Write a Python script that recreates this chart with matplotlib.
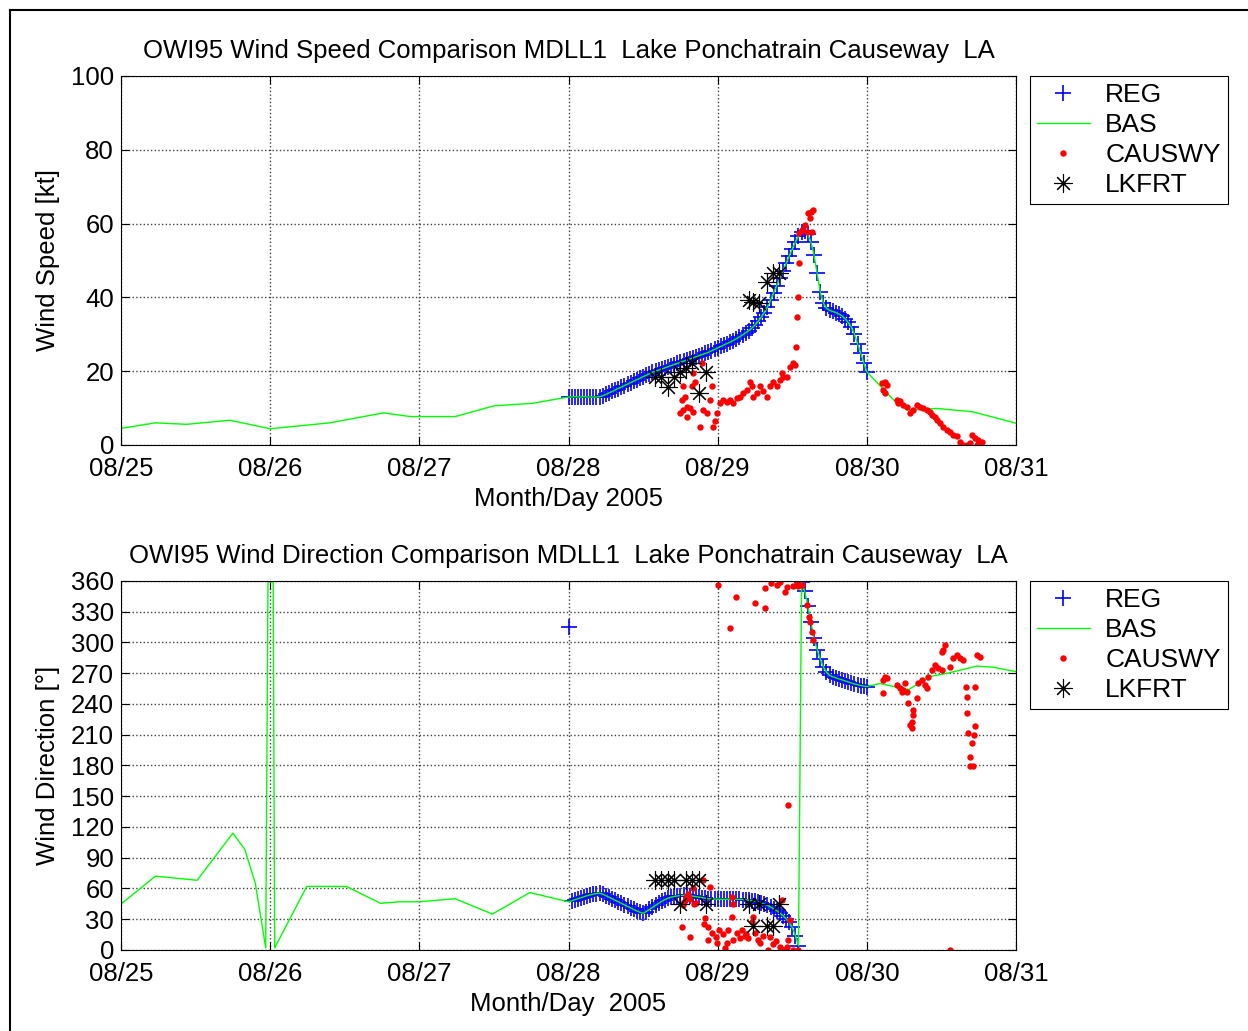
import numpy as np
import matplotlib
matplotlib.use('Agg')
import matplotlib.pyplot as plt
from matplotlib.lines import Line2D

plt.rcParams['font.family'] = ['Liberation Sans', 'DejaVu Sans']

# x axis: days since 08/25 2005 00:00
day_ticks = [0, 1, 2, 3, 4, 5, 6]
day_labels = ['08/25', '08/26', '08/27', '08/28', '08/29', '08/30', '08/31']

# REG model, every half hour from 08/28 00:00
reg_start = 3.0
reg_step = 0.5 / 24
reg_spd = [13.0, 13.0, 13.1, 13.0, 13.0, 13.1, 13.0, 13.0,
           13.0, 13.0, 13.1, 13.3, 13.7, 14.1, 14.5, 14.9, 15.3, 15.7,
           16.1, 16.5, 16.9, 17.3, 17.7, 18.1, 18.5, 18.9, 19.3, 19.7,
           20.0, 20.3, 20.6, 20.9, 21.2, 21.5, 21.8, 22.1, 22.4, 22.7,
           23.0, 23.3, 23.6, 23.9, 24.2, 24.5, 24.8, 25.1, 25.5, 25.9,
           26.3, 26.7, 27.1, 27.5, 27.9, 28.3, 28.8, 29.3, 29.8, 30.4,
           31.0, 31.7, 32.5, 33.5, 34.6, 35.9, 37.4, 39.2, 41.2, 43.2,
           45.2, 47.2, 49.2, 51.2, 53.1, 55.0, 56.7, 57.7, 58.0, 57.2,
           55.0, 51.5, 46.5, 41.5, 38.5, 37.0, 36.5, 36.2, 35.9, 35.5,
           35.0, 34.2, 33.2, 32.0, 30.0, 27.5, 25.0, 22.3, 19.8]
reg_dir = [315, 48, 49, 50, 51, 52, 53, 53.8, 54.5, 55, 55.3, 54.5, 53,
           51.5, 50, 48.5, 47, 45.5, 44, 42.5, 41, 39.5, 38, 36.8, 35.8,
           37.5, 39.5, 41.5, 43.5, 45.5, 47.5, 49, 50.5, 51.5, 52.2, 52.7,
           53, 53.3, 53.3, 53, 52.5, 52, 51.5, 51, 50.5, 50, 49.8, 49.6,
           49.5, 49.4, 49.4, 49.5, 49.5, 49.4, 49.4, 49.3, 49.2, 49, 48.6,
           48.2, 47.7, 47.0, 46.0, 44.8, 43.5, 42, 40.2, 38.3, 36, 33.5,
           30.5, 27, 22, 14, 4, 359, 350, 336, 320, 304, 293, 284, 276,
           271, 268, 266.5, 265.5, 264.5, 263.5, 262.5, 261.5, 260.5,
           259.5, 258.8, 258, 257.5, 257]

# BAS model outside the REG window (inside it BAS follows REG)
bas_spd_pre_t = [0, 0.23, 0.44, 0.73, 1.0, 1.40, 1.76, 1.94, 2.24, 2.50, 2.76, 3.0]
bas_spd_pre = [4.5, 6.0, 5.6, 6.7, 4.4, 6.0, 8.7, 7.7, 7.7, 10.6, 11.3, 13.0]
bas_spd_post_t = [5.18, 5.27, 5.47, 5.71, 6.0]
bas_spd_post = [12.2, 9.5, 9.9, 9.0, 5.9]
bas_dir_pre_t = [0, 0.002, 0.23, 0.51, 0.75, 0.83, 0.90, 0.97, 0.985, 1.02, 1.03,
                 1.245, 1.51, 1.58, 1.74, 1.87, 2.0, 2.24, 2.49, 2.74, 3.0]
bas_dir_pre = [128, 45, 72, 68, 114, 98, 65, 2, 359, 359, 2,
               62, 62, 57, 45.5, 47, 47, 50, 35, 56, 47]
bas_dir_post_t = [5.09, 5.18, 5.28, 5.42, 5.54, 5.74, 5.85, 6.0]
bas_dir_post = [260, 257, 254, 266.7, 270, 277, 275.8, 271.5]

# CAUSWY observations
cw_spd_t = [3.747, 3.770, 3.792, 3.815, 3.837, 3.759, 3.781, 3.770, 3.826, 3.837,
            3.848, 3.792, 3.881, 3.892, 3.904, 3.926, 3.949, 3.960, 3.971, 3.982,
            3.993, 4.016, 4.038, 4.060, 4.083, 4.105, 4.128, 4.150, 4.173, 4.195,
            4.217, 4.228, 4.240, 4.262, 4.284, 4.306, 4.329, 4.351, 4.373, 4.396,
            4.418, 4.429, 4.441, 4.463, 4.485, 4.507, 4.519, 4.523, 4.534, 4.538,
            4.543, 4.547, 4.563, 4.585, 4.608, 4.623, 4.641, 4.619, 4.596, 4.630,
            5.100, 5.122, 5.133, 5.111, 5.122, 5.200, 5.222, 5.211, 5.245, 5.267,
            5.289, 5.312, 5.334, 5.356, 5.378, 5.401, 5.423, 5.434, 5.457, 5.468,
            5.490, 5.513, 5.535, 5.557, 5.580, 5.602, 5.624, 5.647, 5.669, 5.691,
            5.702, 5.725, 5.747, 5.770, 5.736]
cw_spd = [8.6, 9.5, 10.4, 9.9, 9.0, 12.2, 13.1, 16.1, 16.1, 19.4,
          17.2, 7.7, 4.9, 22.2, 9.5, 8.6, 12.2, 16.1, 4.9, 6.5,
          8.6, 11.3, 12.2, 11.7, 12.2, 11.3, 12.6, 13.1, 14.0, 14.9,
          17.2, 16.1, 13.1, 14.0, 16.1, 14.5, 13.1, 16.1, 17.2, 16.1,
          17.7, 19.4, 18.5, 18.5, 21.2, 22.2, 21.7, 26.6, 34.8, 40.2,
          49.2, 57.4, 58.3, 59.6, 62.8, 63.2, 63.7, 61.4, 57.8, 57.8,
          16.7, 17.2, 16.3, 14.9, 14.0, 12.2, 11.8, 11.3, 10.8, 10.4,
          8.6, 9.5, 10.8, 10.4, 9.9, 9.5, 9.0, 8.1, 7.7, 6.8,
          5.9, 5.0, 4.0, 3.6, 2.7, 2.3, 0.9, 0.0, 0.0, 0.5,
          2.7, 1.8, 1.4, 0.9, 0.0]
cw_dir_t = [3.759, 3.815, 3.768, 3.788, 3.775, 3.800, 3.815, 3.835, 3.840, 3.855,
            3.901, 3.948, 3.915, 3.910, 3.935, 3.935, 3.962, 3.990, 3.995, 4.010,
            4.036, 4.049, 4.060, 4.069, 4.094, 4.103, 4.094, 4.103, 4.130, 4.150,
            4.163, 4.183, 4.190, 4.203, 4.228, 4.239, 4.250, 4.270, 4.284, 4.304,
            4.339, 4.351, 4.371, 4.390, 4.418, 4.429, 4.438, 4.465, 4.470, 4.485,
            4.505, 4.540,
            4.000, 4.120, 4.080, 4.250, 4.320, 4.316, 4.355, 4.395, 4.417, 4.451,
            4.467, 4.505, 4.530, 4.540, 4.563, 4.596, 4.611, 4.622, 4.633, 4.640,
            4.470,
            5.122, 5.111, 5.133, 5.106, 5.200, 5.222, 5.234, 5.245, 5.256, 5.267,
            5.278, 5.312, 5.312, 5.301, 5.289, 5.301, 5.334, 5.345, 5.368, 5.390,
            5.401, 5.412, 5.434, 5.457, 5.479, 5.502, 5.513, 5.524, 5.502, 5.557,
            5.580, 5.602, 5.624, 5.647, 5.665, 5.673, 5.669, 5.725, 5.725, 5.718,
            5.680, 5.702, 5.691, 5.691, 5.709, 5.736, 5.758, 5.560]
cw_dir = [22.8, 13, 44, 52, 47, 55, 50, 60, 45, 46,
          68, 61.8, 31, 25, 22, 9.8, 17, 13, 6.5, 19,
          16, 2, 6.5, 19.5, 52, 45, 32.5, 9.8, 17, 12,
          19, 14, 16, 12, 27.6, 32.5, 17, 10, 7, 14,
          0, 13, 6, 9, 3, 48.8, 0, 3, 10, 29,
          0, 0,
          356, 344.7, 313.8, 338.8, 333.3, 352.9, 357.7, 356, 359, 349.6,
          354.4, 355, 357.5, 355.5, 356, 336.6, 325, 320, 310.5, 302.4,
          141.5,
          266.7, 263.4, 265, 250.4, 258.5, 255.3, 252, 253.7, 260.2, 252,
          240.7, 234.2, 229.3, 222.8, 219.5, 216.3, 245.5, 260.2, 263.4, 258.5,
          255.3, 266.7, 273.2, 278, 274.8, 273.2, 292.7, 297.6, 291.1, 276.4,
          284.6, 287.8, 284.6, 283, 257, 247.2, 231, 257, 218.5, 209.8,
          211.4, 201.6, 188.6, 179.5, 179.5, 287.8, 285.5, 0]

# LKFRT observations
lk_t = [3.58, 3.62, 3.67, 3.71, 3.75, 3.79, 3.83, 3.875, 3.92,
        4.21, 4.24, 4.28, 4.33, 4.37, 4.41]
lk_spd = [18.5, 18.5, 15.8, 18.5, 19.9, 20.8, 22.1, 14.0, 19.9,
          39.3, 38.8, 38.4, 44.3, 46.5, 46.5]
lk_dir = [68, 68, 68, 68, 45, 68, 68, 68, 45,
          45, 23, 45, 23, 23, 45]

reg_t = reg_start + reg_step * np.arange(len(reg_spd))
bas_spd_t = np.concatenate([bas_spd_pre_t, reg_t[1:], bas_spd_post_t])
bas_spd = np.concatenate([bas_spd_pre, reg_spd[1:], bas_spd_post])
bas_dir_t = np.concatenate([bas_dir_pre_t, reg_t[1:], bas_dir_post_t])
bas_dir = np.concatenate([bas_dir_pre, reg_dir[1:], bas_dir_post])

fig = plt.figure(figsize=(12.48, 10.31), dpi=100)

panels = [
    ([0.0970, 0.5684, 0.7171, 0.3579], reg_spd, bas_spd_t, bas_spd, cw_spd_t, cw_spd, lk_spd,
     'OWI95 Wind Speed Comparison MDLL1  Lake Ponchatrain Causeway  LA',
     'Wind Speed [kt]', 'Month/Day 2005', (0, 100), np.arange(0, 101, 20)),
    ([0.0970, 0.0786, 0.7171, 0.3579], reg_dir, bas_dir_t, bas_dir, cw_dir_t, cw_dir, lk_dir,
     'OWI95 Wind Direction Comparison MDLL1  Lake Ponchatrain Causeway  LA',
     'Wind Direction [\u00b0]', 'Month/Day  2005', (0, 360), np.arange(0, 361, 30)),
]

for rect, reg, bt, bv, ct, cv, lv, title, ylab, xlab, ylim, yt in panels:
    ax = fig.add_axes(rect)
    h1, = ax.plot(reg_t, reg, linestyle='none', marker='+', color='#0000ff',
                  markersize=12, markeredgewidth=1.2, label='REG')
    h2, = ax.plot(bt, bv, color='#00ff00', linewidth=1.0, label='BAS')
    h3, = ax.plot(ct, cv, linestyle='none', marker='o', color='#ff0000',
                  markersize=4.6, markeredgewidth=0, label='CAUSWY')
    h4, = ax.plot(lk_t, lv, linestyle='none', marker=(8, 2, 0), color='black',
                  markersize=13, markeredgewidth=0.8, label='LKFRT')
    ax.set_xlim(0, 6)
    ax.set_ylim(*ylim)
    ax.set_xticks(day_ticks)
    ax.set_xticklabels(day_labels)
    ax.set_yticks(yt)
    ax.tick_params(direction='in', length=6, width=0.8, labelsize=18.5,
                   top=True, right=True)
    ax.tick_params(axis='x', pad=9)
    ax.tick_params(axis='y', pad=5)
    ax.grid(True, linestyle=':', color='#404040', linewidth=1.0)
    for s in ax.spines.values():
        s.set_linewidth(0.8)
    ax.set_title(title, fontsize=18.5, pad=13)
    ax.set_ylabel(ylab, fontsize=18.5, labelpad=8)
    ax.set_xlabel(xlab, fontsize=18.5, labelpad=4)
    leg = ax.legend(handles=[h1, h2, h3, h4], loc='upper left',
                    bbox_to_anchor=(1.0155, 1.0), borderaxespad=0,
                    fontsize=19, frameon=True, fancybox=False, framealpha=1,
                    edgecolor='black', handlelength=2.0, handletextpad=0.6,
                    labelspacing=0.23, borderpad=0.26)
    leg.get_frame().set_linewidth(0.8)

# frame around the figure
fig.add_artist(Line2D([0.008, 0.008], [0, 0.9903], color='black', linewidth=1.5))
fig.add_artist(Line2D([0.008, 1.0], [0.9903, 0.9903], color='black', linewidth=1.5))

fig.savefig('out.png', dpi=100)
